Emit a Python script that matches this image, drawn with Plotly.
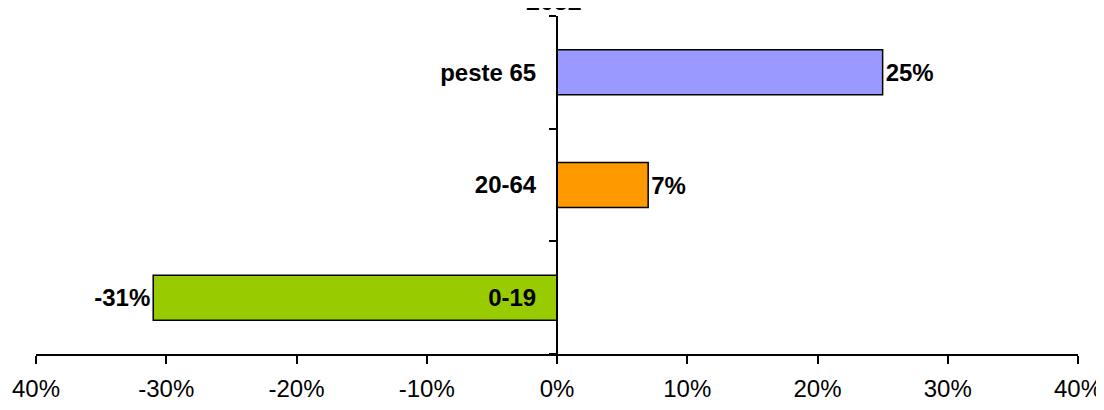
import plotly.graph_objects as go

categories = ["0-19", "20-64", "peste 65"]
values = [-31, 7, 25]
colors = ["#99CC00", "#FF9900", "#9999FF"]
value_labels = ["-31%", "7%", "25%"]
x_ticks = [-40, -30, -20, -10, 0, 10, 20, 30, 40]
x_tick_labels = ["40%", "-30%", "-20%", "-10%", "0%", "10%", "20%", "30%", "40%"]
title_text = "2032"

FONT = "Liberation Sans, Arial, sans-serif"

fig = go.Figure(go.Bar(
    y=categories, x=values, orientation="h",
    marker=dict(color=colors, line=dict(color="black", width=1.5)),
    width=0.4,
    text=value_labels, textposition="outside", cliponaxis=False,
    textfont=dict(family=FONT, size=24, color="black", weight="bold"),
))

# page body adds an 8px offset; figure sized to fit the 1104x410 window
fig.update_layout(
    width=1096, height=402,
    margin=dict(l=28, r=26, t=8, b=56),
    plot_bgcolor="white", paper_bgcolor="white",
    showlegend=False,
    font=dict(family=FONT, color="black"),
    xaxis=dict(
        range=[-40, 40], tickvals=x_ticks, ticktext=x_tick_labels,
        showgrid=False, zeroline=False,
        showline=True, linecolor="black", linewidth=2,
        ticks="outside", ticklen=8, tickwidth=2, tickcolor="black",
        tickfont=dict(size=24, family=FONT), ticklabelstandoff=4,
        automargin=False,
    ),
    yaxis=dict(
        type="category", categoryorder="array", categoryarray=categories,
        anchor="free", position=0.5,
        showgrid=False, zeroline=False,
        showline=True, linecolor="black", linewidth=2,
        ticks="outside", tickson="boundaries", ticklen=7, tickwidth=2, tickcolor="black",
        tickfont=dict(size=24, family=FONT, weight="bold"), ticklabelstandoff=15,
        automargin=False,
    ),
    annotations=[dict(
        text=title_text, xref="paper", yref="paper", x=0.5, y=1,
        xanchor="center", yanchor="bottom", yshift=-1, xshift=-3, showarrow=False,
        font=dict(size=25, family=FONT, weight="bold"),
    )],
)

fig.write_html("out.html")
